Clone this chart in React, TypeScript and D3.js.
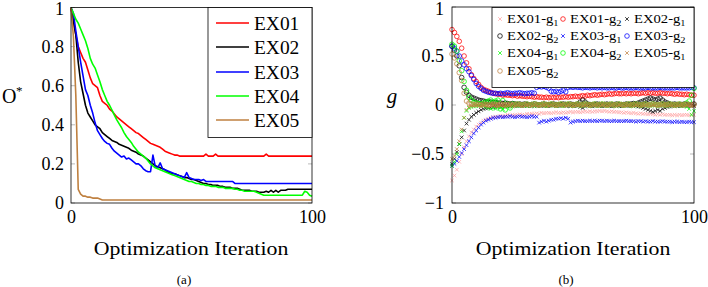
import React from "react"
import * as d3 from "d3"

// ---- panel (a): normalised objective per iteration ----
const iterations = d3.range(0, 101)

const seriesNames = ["EX01", "EX02", "EX03", "EX04", "EX05"]
const seriesColors = ["#ff0000", "#000000", "#0000ff", "#00ff00", "#bf8040"]

const ex01 = [
  1.0, 0.93, 0.86, 0.8, 0.77, 0.74, 0.72, 0.68, 0.64, 0.61,
  0.6, 0.59, 0.55, 0.52, 0.51, 0.5, 0.48, 0.47, 0.455, 0.44,
  0.43, 0.42, 0.41, 0.4, 0.39, 0.38, 0.37, 0.36, 0.355, 0.345,
  0.335, 0.325, 0.315, 0.305, 0.3, 0.295, 0.29, 0.285, 0.275, 0.265,
  0.26, 0.255, 0.25, 0.245, 0.245, 0.24, 0.24, 0.24, 0.24, 0.24,
  0.24, 0.24, 0.24, 0.24, 0.24, 0.24, 0.25, 0.24, 0.24, 0.24,
  0.25, 0.24, 0.24, 0.24, 0.24, 0.24, 0.24, 0.24, 0.24, 0.24,
  0.24, 0.24, 0.24, 0.24, 0.24, 0.24, 0.24, 0.24, 0.24, 0.24,
  0.24, 0.25, 0.24, 0.24, 0.24, 0.24, 0.24, 0.24, 0.24, 0.24,
  0.24, 0.24, 0.24, 0.24, 0.24, 0.24, 0.24, 0.24, 0.24, 0.24,
  0.24,
]
const ex02 = [
  1.0, 0.93, 0.86, 0.72, 0.62, 0.56, 0.5, 0.46, 0.44, 0.42,
  0.4, 0.39, 0.38, 0.36, 0.35, 0.34, 0.33, 0.32, 0.315, 0.31,
  0.3, 0.295, 0.29, 0.285, 0.28, 0.27, 0.265, 0.26, 0.25, 0.245,
  0.24, 0.23, 0.22, 0.21, 0.2, 0.19, 0.185, 0.18, 0.175, 0.17,
  0.16, 0.155, 0.15, 0.15, 0.145, 0.14, 0.135, 0.13, 0.13, 0.125,
  0.12, 0.12, 0.115, 0.11, 0.105, 0.1, 0.1, 0.095, 0.095, 0.09,
  0.09, 0.09, 0.085, 0.085, 0.08, 0.08, 0.08, 0.075, 0.075, 0.075,
  0.07, 0.065, 0.065, 0.065, 0.065, 0.06, 0.06, 0.06, 0.055, 0.055,
  0.055, 0.06, 0.055, 0.065, 0.055, 0.065, 0.055, 0.065, 0.065, 0.065,
  0.07, 0.07, 0.07, 0.07, 0.07, 0.07, 0.07, 0.07, 0.07, 0.07,
  0.07,
]
const ex03 = [
  1.0, 0.97, 0.88, 0.8, 0.72, 0.65, 0.58, 0.55, 0.5, 0.46,
  0.41, 0.37, 0.35, 0.33, 0.315, 0.305, 0.3, 0.28, 0.265, 0.255,
  0.245, 0.235, 0.24, 0.225, 0.23, 0.22, 0.21, 0.2, 0.2, 0.19,
  0.175, 0.165, 0.16, 0.16, 0.245, 0.185, 0.18, 0.205, 0.175, 0.17,
  0.165, 0.16, 0.155, 0.15, 0.145, 0.14, 0.135, 0.13, 0.155, 0.13,
  0.125, 0.12, 0.12, 0.12, 0.115, 0.12, 0.11, 0.11, 0.11, 0.11,
  0.11, 0.11, 0.11, 0.11, 0.11, 0.11, 0.11, 0.11, 0.1, 0.1,
  0.1, 0.1, 0.1, 0.1, 0.1, 0.1, 0.1, 0.1, 0.1, 0.1,
  0.1, 0.1, 0.1, 0.1, 0.1, 0.1, 0.1, 0.1, 0.1, 0.1,
  0.1, 0.1, 0.1, 0.1, 0.1, 0.1, 0.1, 0.1, 0.1, 0.1,
  0.1,
]
const ex04 = [
  1.0, 0.97, 0.94, 0.92, 0.89, 0.86, 0.83, 0.79, 0.74, 0.71,
  0.69, 0.655, 0.62, 0.58, 0.55, 0.52, 0.5, 0.475, 0.45, 0.425,
  0.405, 0.385, 0.36, 0.34, 0.325, 0.31, 0.29, 0.275, 0.26, 0.25,
  0.24, 0.23, 0.215, 0.2, 0.19, 0.18, 0.175, 0.17, 0.165, 0.16,
  0.155, 0.15, 0.145, 0.14, 0.135, 0.13, 0.125, 0.12, 0.115, 0.11,
  0.11, 0.105, 0.1, 0.1, 0.095, 0.095, 0.09, 0.09, 0.085, 0.085,
  0.085, 0.08, 0.08, 0.08, 0.075, 0.075, 0.075, 0.075, 0.07, 0.07,
  0.065, 0.065, 0.06, 0.06, 0.06, 0.06, 0.06, 0.055, 0.05, 0.045,
  0.04, 0.04, 0.04, 0.04, 0.04, 0.04, 0.04, 0.04, 0.04, 0.04,
  0.04, 0.04, 0.04, 0.04, 0.04, 0.04, 0.04, 0.06, 0.055, 0.04,
  0.035,
]
const ex05 = [
  1.0, 0.85, 0.55, 0.07, 0.045, 0.035, 0.035, 0.03, 0.03, 0.025,
  0.025, 0.025, 0.02, 0.015, 0.015, 0.015, 0.015, 0.015, 0.015, 0.015,
  0.015, 0.015, 0.015, 0.015, 0.015, 0.015, 0.015, 0.015, 0.015, 0.015,
  0.015, 0.015, 0.015, 0.015, 0.015, 0.015, 0.015, 0.015, 0.015, 0.015,
  0.015, 0.015, 0.015, 0.015, 0.015, 0.015, 0.015, 0.015, 0.015, 0.015,
  0.015, 0.015, 0.015, 0.015, 0.015, 0.015, 0.015, 0.015, 0.015, 0.015,
  0.015, 0.015, 0.015, 0.015, 0.015, 0.015, 0.015, 0.015, 0.015, 0.015,
  0.015, 0.015, 0.015, 0.015, 0.015, 0.015, 0.015, 0.015, 0.015, 0.015,
  0.015, 0.015, 0.015, 0.015, 0.015, 0.015, 0.015, 0.015, 0.015, 0.015,
  0.015, 0.015, 0.015, 0.015, 0.015, 0.015, 0.015, 0.015, 0.015, 0.015,
  0.015,
]
const objectiveSeries = [ex01, ex02, ex03, ex04, ex05]
const objTicks = [0, 0.2, 0.4, 0.6, 0.8, 1]
const objTickLabels = ["0", "0.2", "0.4", "0.6", "0.8", "1"]

// ---- panel (b): constraint values g1 / g2 per iteration ----
const gNames = [
  "EX01", "EX01", "EX02", "EX02", "EX03", "EX03", "EX04", "EX04", "EX05", "EX05",
]
const gIndex = ["1", "2", "1", "2", "1", "2", "1", "2", "1", "2"]
const gColors = [
  "#ffa0a0", "#ff0000", "#000000", "#000000", "#0000ff",
  "#0000ff", "#00ff00", "#00ff00", "#bf8040", "#bf8040",
]

const ex01g1 = [
  -0.77, -0.72, -0.66, -0.58, -0.5, -0.43, -0.37, -0.32, -0.28, -0.25,
  -0.22, -0.2, -0.18, -0.16, -0.15, -0.14, -0.13, -0.125, -0.12, -0.12,
  -0.11, -0.115, -0.11, -0.1, -0.11, -0.1, -0.105, -0.1, -0.095, -0.1,
  -0.1, -0.09, -0.095, -0.09, -0.09, -0.085, -0.09, -0.08, -0.085, -0.08,
  -0.08, -0.085, -0.08, -0.075, -0.08, -0.08, -0.075, -0.08, -0.075, -0.07,
  -0.075, -0.07, -0.07, -0.075, -0.07, -0.065, -0.07, -0.065, -0.07, -0.065,
  -0.065, -0.06, -0.065, -0.06, -0.065, -0.07, -0.065, -0.07, -0.07, -0.075,
  -0.075, -0.08, -0.075, -0.08, -0.085, -0.08, -0.085, -0.09, -0.085, -0.09,
  -0.09, -0.095, -0.09, -0.095, -0.1, -0.095, -0.1, -0.095, -0.1, -0.1,
  -0.1, -0.105, -0.1, -0.105, -0.1, -0.105, -0.1, -0.1, -0.105, -0.1,
  -0.1,
]
const ex01g2 = [
  0.77, 0.74, 0.7, 0.65, 0.58, 0.5, 0.43, 0.37, 0.31, 0.27,
  0.24, 0.21, 0.18, 0.16, 0.15, 0.14, 0.13, 0.12, 0.115, 0.11,
  0.11, 0.1, 0.105, 0.1, 0.1, 0.095, 0.1, 0.09, 0.095, 0.09,
  0.09, 0.085, 0.09, 0.085, 0.08, 0.085, 0.08, 0.08, 0.075, 0.08,
  0.075, 0.08, 0.075, 0.08, 0.075, 0.08, 0.08, 0.085, 0.08, 0.085,
  0.085, 0.09, 0.085, 0.09, 0.095, 0.09, 0.1, 0.095, 0.1, 0.105,
  0.1, 0.105, 0.11, 0.105, 0.11, 0.115, 0.11, 0.115, 0.12, 0.115,
  0.115, 0.12, 0.115, 0.12, 0.115, 0.12, 0.12, 0.115, 0.12, 0.125,
  0.12, 0.125, 0.12, 0.125, 0.12, 0.12, 0.125, 0.12, 0.12, 0.115,
  0.12, 0.115, 0.11, 0.115, 0.11, 0.11, 0.105, 0.11, 0.105, 0.1,
  0.1,
]
const ex02g1 = [
  -0.6, -0.55, -0.48, -0.4, -0.33, -0.26, -0.19, -0.15, -0.12, -0.1,
  -0.08, -0.065, -0.05, -0.04, -0.035, -0.03, -0.025, -0.02, -0.02, -0.015,
  -0.02, -0.015, -0.01, -0.015, -0.01, -0.01, -0.005, -0.01, -0.005, -0.01,
  -0.005, -0.01, 0.0, -0.005, -0.01, -0.005, 0.0, -0.005, -0.01, -0.005,
  0.0, -0.005, 0.0, -0.01, -0.005, 0.0, -0.005, -0.005, 0.0, -0.01,
  -0.005, 0.0, -0.005, -0.02, -0.03, -0.015, 0.0, -0.005, -0.01, -0.005,
  0.0, -0.005, -0.01, -0.005, 0.0, -0.005, -0.01, -0.005, 0.0, -0.01,
  -0.005, 0.0, -0.005, -0.01, -0.005, 0.0, -0.01, -0.015, -0.02, -0.03,
  -0.04, -0.05, -0.06, -0.07, -0.06, -0.05, -0.06, -0.04, -0.03, -0.02,
  -0.015, -0.01, -0.005, -0.01, 0.0, -0.005, -0.01, -0.005, 0.0, -0.005,
  -0.01,
]
const ex02g2 = [
  0.6, 0.56, 0.5, 0.4, 0.28, 0.18, 0.13, 0.1, 0.08, 0.07,
  0.06, 0.05, 0.045, 0.04, 0.035, 0.03, 0.03, 0.025, 0.025, 0.02,
  0.02, 0.015, 0.02, 0.015, 0.01, 0.015, 0.01, 0.005, 0.01, 0.005,
  0.01, 0.005, 0.0, 0.005, 0.01, 0.005, 0.0, 0.005, 0.01, 0.005,
  0.0, 0.005, 0.01, 0.005, 0.0, 0.005, 0.01, 0.005, 0.0, 0.01,
  0.005, 0.0, 0.01, 0.03, 0.05, 0.03, 0.01, 0.005, 0.0, 0.005,
  0.01, 0.005, 0.0, 0.005, 0.01, 0.005, 0.0, 0.005, 0.01, 0.005,
  0.0, 0.005, 0.01, 0.005, 0.01, 0.015, 0.01, 0.02, 0.03, 0.04,
  0.05, 0.06, 0.07, 0.06, 0.05, 0.06, 0.07, 0.05, 0.03, 0.02,
  0.01, 0.005, 0.01, 0.005, 0.0, 0.005, 0.01, 0.005, 0.0, 0.005,
  0.01,
]
const ex03g1 = [
  -0.62, -0.6, -0.57, -0.53, -0.49, -0.45, -0.41, -0.37, -0.33, -0.29,
  -0.26, -0.23, -0.2, -0.18, -0.16, -0.15, -0.14, -0.13, -0.13, -0.125,
  -0.12, -0.125, -0.12, -0.12, -0.115, -0.12, -0.125, -0.12, -0.115, -0.12,
  -0.12, -0.125, -0.12, -0.115, -0.12, -0.12, -0.18, -0.17, -0.16, -0.17,
  -0.16, -0.15, -0.15, -0.14, -0.14, -0.135, -0.14, -0.13, -0.14, -0.18,
  -0.17, -0.165, -0.16, -0.165, -0.16, -0.165, -0.165, -0.16, -0.165, -0.16,
  -0.165, -0.16, -0.16, -0.165, -0.16, -0.165, -0.165, -0.16, -0.165, -0.165,
  -0.165, -0.165, -0.16, -0.165, -0.165, -0.165, -0.17, -0.165, -0.165, -0.17,
  -0.165, -0.17, -0.17, -0.165, -0.17, -0.17, -0.17, -0.165, -0.17, -0.17,
  -0.17, -0.175, -0.17, -0.17, -0.175, -0.17, -0.175, -0.175, -0.17, -0.175,
  -0.175,
]
const ex03g2 = [
  0.6, 0.58, 0.55, 0.5, 0.45, 0.41, 0.37, 0.34, 0.3, 0.26,
  0.22, 0.19, 0.17, 0.15, 0.14, 0.13, 0.125, 0.12, 0.12, 0.115,
  0.12, 0.115, 0.12, 0.125, 0.12, 0.115, 0.12, 0.12, 0.125, 0.12,
  0.115, 0.12, 0.12, 0.125, 0.12, 0.18, 0.19, 0.185, 0.19, 0.18,
  0.17, 0.14, 0.135, 0.14, 0.13, 0.14, 0.15, 0.135, 0.18, 0.185,
  0.18, 0.185, 0.18, 0.18, 0.175, 0.18, 0.18, 0.175, 0.18, 0.18,
  0.175, 0.18, 0.175, 0.18, 0.175, 0.175, 0.18, 0.175, 0.175, 0.18,
  0.175, 0.175, 0.18, 0.175, 0.175, 0.175, 0.18, 0.175, 0.175, 0.175,
  0.175, 0.18, 0.175, 0.175, 0.175, 0.175, 0.18, 0.175, 0.175, 0.175,
  0.175, 0.175, 0.175, 0.18, 0.175, 0.175, 0.175, 0.175, 0.175, 0.18,
  0.175,
]
const ex04g1 = [
  -0.62, -0.58, -0.5, -0.4, -0.27, -0.13, -0.06, -0.03, -0.02, -0.015,
  -0.01, -0.01, -0.005, -0.01, -0.02, -0.03, -0.04, -0.03, -0.04, -0.02,
  -0.03, -0.04, -0.02, -0.01, -0.015, -0.01, -0.005, -0.01, -0.005, 0.0,
  -0.005, -0.01, 0.0, -0.005, -0.01, -0.005, 0.0, -0.005, 0.0, -0.01,
  -0.005, 0.0, -0.005, -0.01, 0.0, -0.005, -0.01, -0.005, 0.0, -0.005,
  -0.01, -0.005, 0.0, -0.005, -0.01, 0.0, -0.005, -0.01, -0.005, 0.0,
  -0.005, -0.01, 0.0, -0.005, -0.01, -0.005, 0.0, -0.005, -0.01, 0.0,
  -0.005, -0.01, -0.005, 0.0, -0.005, -0.01, 0.0, -0.005, -0.01, -0.005,
  0.0, -0.005, -0.01, 0.0, -0.005, -0.01, -0.005, 0.0, -0.005, -0.01,
  0.0, -0.005, -0.01, -0.005, 0.0, -0.005, -0.01, -0.02, -0.04, -0.1,
  -0.06,
]
const ex04g2 = [
  0.62, 0.6, 0.55, 0.45, 0.35, 0.24, 0.15, 0.08, 0.05, 0.03,
  0.02, 0.015, 0.01, 0.02, 0.03, 0.04, 0.05, 0.03, 0.04, 0.05,
  -0.04, 0.045, -0.05, 0.01, -0.03, 0.01, 0.005, 0.01, 0.005, 0.0,
  0.005, 0.01, 0.0, 0.005, 0.01, 0.005, 0.0, 0.005, 0.01, 0.0,
  0.005, 0.01, 0.005, 0.0, 0.005, 0.01, 0.0, 0.005, 0.01, 0.005,
  0.0, 0.005, 0.01, 0.0, 0.005, 0.01, 0.005, 0.0, 0.005, 0.01,
  0.0, 0.005, 0.01, 0.005, 0.0, 0.005, 0.01, 0.0, 0.005, 0.01,
  0.005, 0.0, 0.005, 0.01, 0.0, 0.005, 0.01, 0.005, 0.0, 0.005,
  0.01, 0.0, 0.005, 0.01, 0.005, 0.0, 0.005, 0.01, 0.0, 0.005,
  0.01, 0.005, 0.0, 0.005, 0.01, 0.0, 0.005, 0.02, 0.04, 0.1,
  0.17,
]
const ex05g1 = [
  -0.55, -0.52, -0.45, -0.37, -0.25, -0.13, -0.05, -0.02, -0.01, -0.005,
  0.0, -0.005, -0.01, 0.0, -0.005, -0.01, -0.005, 0.0, -0.005, -0.01,
  0.0, -0.005, -0.01, -0.005, 0.0, -0.005, -0.01, 0.0, -0.005, -0.01,
  -0.005, 0.0, -0.005, -0.01, 0.0, -0.005, -0.01, -0.005, 0.0, -0.005,
  -0.01, 0.0, -0.005, -0.01, -0.005, 0.0, -0.005, -0.01, 0.0, -0.005,
  -0.01, -0.005, 0.0, -0.005, -0.01, 0.0, -0.005, -0.01, -0.005, 0.0,
  -0.005, -0.01, 0.0, -0.005, -0.01, -0.005, 0.0, -0.005, -0.01, 0.0,
  -0.005, -0.01, -0.005, 0.0, -0.005, -0.01, 0.0, -0.005, -0.01, -0.005,
  0.0, -0.005, -0.01, 0.0, -0.005, -0.01, -0.005, 0.0, -0.005, -0.01,
  0.0, -0.005, -0.01, -0.005, 0.0, -0.005, -0.01, 0.0, -0.005, -0.01,
  -0.005,
]
const ex05g2 = [
  0.52, 0.48, 0.42, 0.33, 0.25, 0.12, 0.04, 0.02, 0.01, 0.005,
  0.01, 0.005, 0.0, 0.01, 0.005, 0.0, 0.005, 0.01, 0.005, 0.0,
  0.01, 0.005, 0.0, 0.005, 0.01, 0.0, 0.005, 0.01, 0.005, 0.0,
  0.005, 0.01, 0.0, 0.005, 0.01, 0.005, 0.0, 0.005, 0.01, 0.0,
  0.005, 0.01, 0.005, 0.0, 0.005, 0.01, 0.0, 0.005, 0.01, 0.005,
  0.0, 0.005, 0.01, 0.0, 0.005, 0.01, 0.005, 0.0, 0.005, 0.01,
  0.0, 0.005, 0.01, 0.005, 0.0, 0.005, 0.01, 0.0, 0.005, 0.01,
  0.005, 0.0, 0.005, 0.01, 0.0, 0.005, 0.01, 0.005, 0.0, 0.005,
  0.01, 0.0, 0.005, 0.01, 0.005, 0.0, 0.005, 0.01, 0.0, 0.005,
  0.01, 0.005, 0.0, 0.005, 0.01, 0.0, 0.005, 0.01, 0.005, 0.0,
  0.005,
]
const gSeries = [
  ex01g1, ex01g2, ex02g1, ex02g2, ex03g1, ex03g2, ex04g1, ex04g2, ex05g1, ex05g2,
]
const gTicks = [-1, -0.5, 0, 0.5, 1]
const gTickLabels = ["\u22121", "\u22120.5", "0", "0.5", "1"]

const xTicks = [0, 100]
const xTickLabels = ["0", "100"]

const FONT = "Liberation Serif, DejaVu Serif, serif"
const TICK_GRAY = "#8c8c8c"

function Label(props: {
  x: number
  y: number
  size: number
  sx?: number
  anchor?: "start" | "middle" | "end"
  italic?: boolean
  children: React.ReactNode
}) {
  const { x, y, size, sx = 1, anchor = "start", italic, children } = props
  return (
    <text
      transform={`translate(${x},${y}) scale(${sx},1)`}
      style={{ fontFamily: FONT, fontSize: size, fontStyle: italic ? "italic" : "normal" }}
      textAnchor={anchor}
      fill="#000"
    >
      {children}
    </text>
  )
}

function Cross({ x, y, color }: { x: number; y: number; color: string }) {
  const s = 1.8
  return (
    <path
      d={`M${x - s},${y - s}L${x + s},${y + s}M${x - s},${y + s}L${x + s},${y - s}`}
      stroke={color}
      strokeWidth={0.75}
      fill="none"
    />
  )
}

function Ring({ x, y, color }: { x: number; y: number; color: string }) {
  return <circle cx={x} cy={y} r={2.3} stroke={color} strokeWidth={0.75} fill="none" />
}

function ObjectivePanel() {
  const x = d3.scaleLinear().domain([0, 100]).range([71, 312])
  const y = d3.scaleLinear().domain([0, 1]).range([203, 7.5])
  const line = d3
    .line<number>()
    .x((_, i) => x(iterations[i]))
    .y((d) => y(d))

  const legendRows = [23, 47, 72, 96, 120]

  return (
    <g>
      {objectiveSeries.map((s, k) => (
        <path key={k} d={line(s) ?? ""} fill="none" stroke={seriesColors[k]} strokeWidth={1.6} strokeLinejoin="round" />
      ))}

      {objTicks.map((t) => (
        <g key={t}>
          <line x1={x(0)} x2={x(0) + 4} y1={y(t)} y2={y(t)} stroke={TICK_GRAY} strokeWidth={0.6} />
          <line x1={x(100)} x2={x(100) - 4} y1={y(t)} y2={y(t)} stroke={TICK_GRAY} strokeWidth={0.6} />
        </g>
      ))}
      <rect x={x(0)} y={y(1)} width={x(100) - x(0)} height={y(0) - y(1)} fill="none" stroke="#000" strokeWidth={0.8} />

      {objTicks.map((t, i) => (
        <Label key={t} x={64} y={Math.max(y(t) + 6, 15)} size={18} anchor="end">
          {objTickLabels[i]}
        </Label>
      ))}
      {xTicks.map((t, i) => (
        <Label key={t} x={x(t) + 0.5} y={223} size={18} anchor="middle">
          {xTickLabels[i]}
        </Label>
      ))}

      {/* legend */}
      <rect x={208} y={7.5} width={104} height={130} fill="#fff" stroke="#000" strokeWidth={0.8} />
      {seriesNames.map((name, k) => (
        <g key={name}>
          <line x1={216} x2={249} y1={legendRows[k]} y2={legendRows[k]} stroke={seriesColors[k]} strokeWidth={1.6} />
          <Label x={254} y={legendRows[k] + 6.5} size={18} sx={1.08}>
            {name}
          </Label>
        </g>
      ))}

      <Label x={2} y={103} size={20}>
        O
      </Label>
      <Label x={16} y={95} size={13}>
        *
      </Label>
      <Label x={191} y={255} size={19} sx={1.15} anchor="middle">
        Optimization Iteration
      </Label>
      <Label x={184} y={284} size={13} anchor="middle">
        (a)
      </Label>
    </g>
  )
}

function ConstraintPanel() {
  const x = d3.scaleLinear().domain([0, 100]).range([452, 694])
  const y = d3.scaleLinear().domain([-1, 1]).range([203, 7])

  const colX = [500, 563, 627]
  const rowY = [19, 36, 53, 71]

  return (
    <g>
      {gTicks.map((t) => (
        <g key={t}>
          <line x1={x(0)} x2={x(0) + 4} y1={y(t)} y2={y(t)} stroke={TICK_GRAY} strokeWidth={0.6} />
          <line x1={x(100)} x2={x(100) - 4} y1={y(t)} y2={y(t)} stroke={TICK_GRAY} strokeWidth={0.6} />
        </g>
      ))}

      {gSeries.map((s, k) =>
        s.map((v, i) =>
          gIndex[k] === "1" ? (
            <Cross key={`${k}-${i}`} x={x(iterations[i])} y={y(v)} color={gColors[k]} />
          ) : (
            <Ring key={`${k}-${i}`} x={x(iterations[i])} y={y(v)} color={gColors[k]} />
          ),
        ),
      )}

      <rect x={x(0)} y={y(1)} width={x(100) - x(0)} height={y(-1) - y(1)} fill="none" stroke="#000" strokeWidth={0.8} />

      {gTicks.map((t, i) => (
        <Label key={t} x={444} y={Math.max(y(t) + 6, 15)} size={18} anchor="end">
          {gTickLabels[i]}
        </Label>
      ))}
      {xTicks.map((t, i) => (
        <Label key={t} x={x(t) + 0.5} y={223} size={18} anchor="middle">
          {xTickLabels[i]}
        </Label>
      ))}

      {/* legend, three columns */}
      <rect x={492} y={7.5} width={202} height={80} fill="#fff" stroke="#000" strokeWidth={0.8} />
      {gNames.map((name, k) => {
        const cx = colX[k % 3]
        const cy = rowY[Math.floor(k / 3)]
        return (
          <g key={k}>
            {gIndex[k] === "1" ? <Cross x={cx} y={cy} color={gColors[k]} /> : <Ring x={cx} y={cy} color={gColors[k]} />}
            <Label x={cx + 7} y={cy + 4} size={12} sx={1.22}>
              {name}-g
              <tspan fontSize={8.5} dy={3}>
                {gIndex[k]}
              </tspan>
            </Label>
          </g>
        )
      })}

      <Label x={392} y={103} size={21} italic anchor="middle">
        g
      </Label>
      <Label x={573} y={255} size={19} sx={1.15} anchor="middle">
        Optimization Iteration
      </Label>
      <Label x={566} y={284} size={13} anchor="middle">
        (b)
      </Label>
    </g>
  )
}

export default function App() {
  return (
    <svg
      width={708}
      height={287}
      viewBox="0 0 708 287"
      style={{ position: "absolute", left: 0, top: 0, background: "#fff" }}
    >
      <rect width={708} height={287} fill="#fff" />
      <ObjectivePanel />
      <ConstraintPanel />
    </svg>
  )
}
